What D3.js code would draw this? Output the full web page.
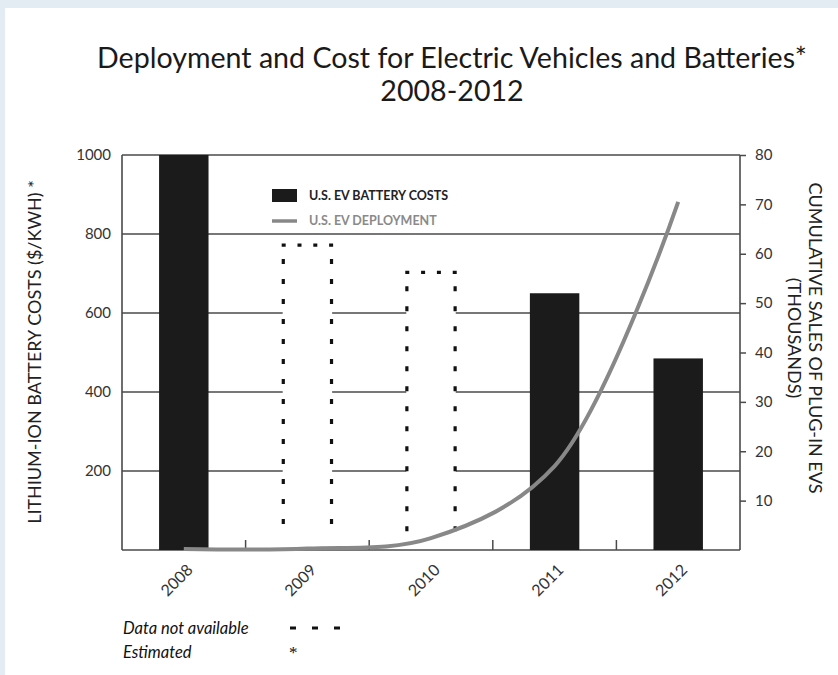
<!DOCTYPE html>
<html>
<head>
<meta charset="utf-8">
<script src="https://cdn.jsdelivr.net/npm/d3@7"></script>
<style>
  body { margin: 0; background: #e3ebf3; }
  svg { display: block; }
  text { font-family: Lato, "Open Sans", sans-serif; fill: #333; }
</style>
</head>
<body>
<svg id="chart" width="838" height="675"></svg>
<script>
// data
var years = ["2008", "2009", "2010", "2011", "2012"];
var batteryCost = [1000, 772, 703, 650, 485];          // $/kWh
var costAvailable = [true, false, false, true, true];  // 2009, 2010 drawn dotted
var evSales = [0.2, 0.3, 2.4, 17, 70.5];               // cumulative, thousands
var costTicks = [200, 400, 600, 800, 1000];
var salesTicks = [10, 20, 30, 40, 50, 60, 70, 80];

var svg = d3.select("#chart");

// white panel over the blue-grey page
svg.append("rect")
  .attr("x", 5).attr("y", 8)
  .attr("width", 833).attr("height", 667)
  .attr("fill", "#fff");

var pLeft = 122, pRight = 740, pTop = 155, pBottom = 550;

var x = d3.scaleBand()
  .domain(years)
  .range([pLeft, pRight])
  .paddingInner(0.6)
  .paddingOuter(0.3);

var xc = d3.scaleBand().domain(years).range([pLeft, pRight]);  // full bands, for ticks/line

var yCost = d3.scaleLinear().domain([0, 1000]).range([pBottom, pTop]);
var ySales = d3.scaleLinear().domain([0, 80]).range([pBottom, pTop]);

// title
var title = svg.append("text")
  .attr("text-anchor", "middle")
  .style("font-size", "28.6px")
  .style("fill", "#1a1a1a");
title.append("tspan").attr("x", 452).attr("y", 68)
  .text("Deployment and Cost for Electric Vehicles and Batteries*");
title.append("tspan").attr("x", 452).attr("y", 101).text("2008-2012");

// gridlines
svg.append("g")
  .selectAll("line")
  .data(costTicks)
  .enter()
  .append("line")
    .attr("x1", pLeft).attr("x2", pRight)
    .attr("y1", function(d){ return yCost(d) })
    .attr("y2", function(d){ return yCost(d) })
    .attr("stroke", "#4a4a4a")
    .attr("stroke-width", 1.6);

// left axis (labels only + line)
svg.append("line")
  .attr("x1", pLeft).attr("x2", pLeft)
  .attr("y1", pTop).attr("y2", pBottom)
  .attr("stroke", "#4a4a4a").attr("stroke-width", 1.6);

svg.append("g")
  .selectAll("text")
  .data(costTicks)
  .enter()
  .append("text")
    .attr("x", pLeft - 11)
    .attr("y", function(d){ return yCost(d) + 5 })
    .attr("text-anchor", "end")
    .style("font-size", "15px")
    .text(function(d){ return d });

// right axis
var rightAxis = svg.append("g")
  .attr("transform", "translate(" + pRight + ",0)")
  .call(d3.axisRight(ySales).tickValues(salesTicks).tickSize(6).tickPadding(9));
rightAxis.select(".domain").attr("stroke", "#4a4a4a").attr("stroke-width", 1.6)
  .attr("d", "M0," + pTop + "V" + pBottom);
rightAxis.selectAll(".tick line").attr("stroke", "#4a4a4a").attr("stroke-width", 1.5);
rightAxis.selectAll(".tick text")
  .style("font-size", "15px")
  .style("font-family", "Lato, sans-serif")
  .attr("fill", "#333");

// bottom axis line with inward ticks at band edges
svg.append("line")
  .attr("x1", pLeft).attr("x2", pRight)
  .attr("y1", pBottom).attr("y2", pBottom)
  .attr("stroke", "#4a4a4a").attr("stroke-width", 1.6);

svg.append("g")
  .selectAll("line")
  .data(years.slice(1))
  .enter()
  .append("line")
    .attr("x1", function(d){ return xc(d) })
    .attr("x2", function(d){ return xc(d) })
    .attr("y1", pBottom).attr("y2", pBottom - 10)
    .attr("stroke", "#4a4a4a").attr("stroke-width", 1.5);

var costData = years.map(function(y, i){
  return {year: y, cost: batteryCost[i], ok: costAvailable[i]};
});

// solid bars
svg.append("g")
  .selectAll("rect")
  .data(costData.filter(function(d){ return d.ok }))
  .enter()
  .append("rect")
    .attr("x", function(d){ return x(d.year) })
    .attr("width", x.bandwidth())
    .attr("y", function(d){ return yCost(d.cost) })
    .attr("height", function(d){ return pBottom - yCost(d.cost) })
    .attr("fill", "#1b1b1b");

// dotted (not available) bars: white fill, three dotted sides
var est = costData.filter(function(d){ return !d.ok });
svg.append("g")
  .selectAll("rect")
  .data(est)
  .enter()
  .append("rect")
    .attr("x", function(d){ return x(d.year) })
    .attr("width", x.bandwidth())
    .attr("y", function(d){ return yCost(d.cost) })
    .attr("height", function(d){ return pBottom - yCost(d.cost) - 1 })
    .attr("fill", "#fff");

var dots = svg.append("g")
  .attr("fill", "none")
  .attr("stroke", "#111")
  .attr("stroke-width", 3.2);

dots.selectAll("path.top")
  .data(est)
  .enter()
  .append("path")
    .attr("class", "top")
    .attr("d", function(d){
      var x0 = x(d.year) - 1, y0 = yCost(d.cost);
      return "M" + x0 + "," + y0 + "H" + (x0 + x.bandwidth() + 2);
    })
    .attr("stroke-dasharray", function(d){
      var gap = (x.bandwidth() + 2 - 4 * 4) / 3;
      return "4," + gap;
    });

dots.selectAll("path.side")
  .data(est)
  .enter()
  .append("path")
    .attr("class", "side")
    .attr("d", function(d){
      var x0 = x(d.year) + 0.6, x1 = x(d.year) + x.bandwidth() - 0.6, y0 = yCost(d.cost) + 14;
      return "M" + x0 + "," + y0 + "V" + (pBottom - 14) + "M" + x1 + "," + y0 + "V" + (pBottom - 14);
    })
    .attr("stroke-dasharray", "5,15");

// deployment line
var line = d3.line()
  .x(function(d, i){ return xc(years[i]) + xc.bandwidth() / 2 })
  .y(function(d){ return ySales(d) })
  .curve(d3.curveCatmullRom.alpha(0.5));

svg.append("path")
  .datum(evSales)
  .attr("d", line)
  .attr("fill", "none")
  .attr("stroke", "#888")
  .attr("stroke-width", 4);

// year labels
svg.append("g")
  .selectAll("text")
  .data(years)
  .enter()
  .append("text")
    .attr("transform", function(d){
      return "translate(" + (xc(d) + xc.bandwidth() / 2 + 10) + "," + (pBottom + 21) + ") rotate(-45)";
    })
    .attr("text-anchor", "end")
    .style("font-size", "16px")
    .text(function(d){ return d });

// legend
svg.append("rect")
  .attr("x", 272).attr("y", 189)
  .attr("width", 25).attr("height", 13)
  .attr("fill", "#1b1b1b");
svg.append("text")
  .attr("x", 309).attr("y", 200)
  .style("font-size", "12.5px").style("font-weight", "bold")
  .style("fill", "#222")
  .text("U.S. EV BATTERY COSTS");
svg.append("line")
  .attr("x1", 272).attr("x2", 297)
  .attr("y1", 221).attr("y2", 221)
  .attr("stroke", "#888").attr("stroke-width", 3.5);
svg.append("text")
  .attr("x", 309).attr("y", 225)
  .style("font-size", "12.5px").style("font-weight", "bold")
  .style("fill", "#8a8a8a")
  .text("U.S. EV DEPLOYMENT");

// axis titles
svg.append("text")
  .attr("transform", "translate(41,352) rotate(-90)")
  .attr("text-anchor", "middle")
  .style("font-size", "18px")
  .style("fill", "#222")
  .text("LITHIUM-ION BATTERY COSTS ($/KWH) *");

var rt = svg.append("text")
  .attr("transform", "translate(809,338) rotate(90)")
  .attr("text-anchor", "middle")
  .style("font-size", "18px")
  .style("fill", "#222");
rt.append("tspan").attr("x", 0).attr("y", 0).text("CUMULATIVE SALES OF PLUG-IN EVS");
rt.append("tspan").attr("x", 0).attr("y", 21).text("(THOUSANDS)");

// footnotes
svg.append("text")
  .attr("x", 123).attr("y", 634)
  .style("font-size", "16.5px").style("font-style", "italic")
  .style("fill", "#111")
  .text("Data not available");
svg.append("line")
  .attr("x1", 290).attr("x2", 342)
  .attr("y1", 628).attr("y2", 628)
  .attr("stroke", "#111").attr("stroke-width", 3)
  .attr("stroke-dasharray", "6,16");
svg.append("text")
  .attr("x", 123).attr("y", 658)
  .style("font-size", "16.5px").style("font-style", "italic")
  .style("fill", "#111")
  .text("Estimated");
svg.append("text")
  .attr("x", 289).attr("y", 658)
  .style("font-size", "17px")
  .style("font-family", "'Liberation Serif', serif")
  .style("fill", "#111")
  .text("*");
</script>
</body>
</html>
